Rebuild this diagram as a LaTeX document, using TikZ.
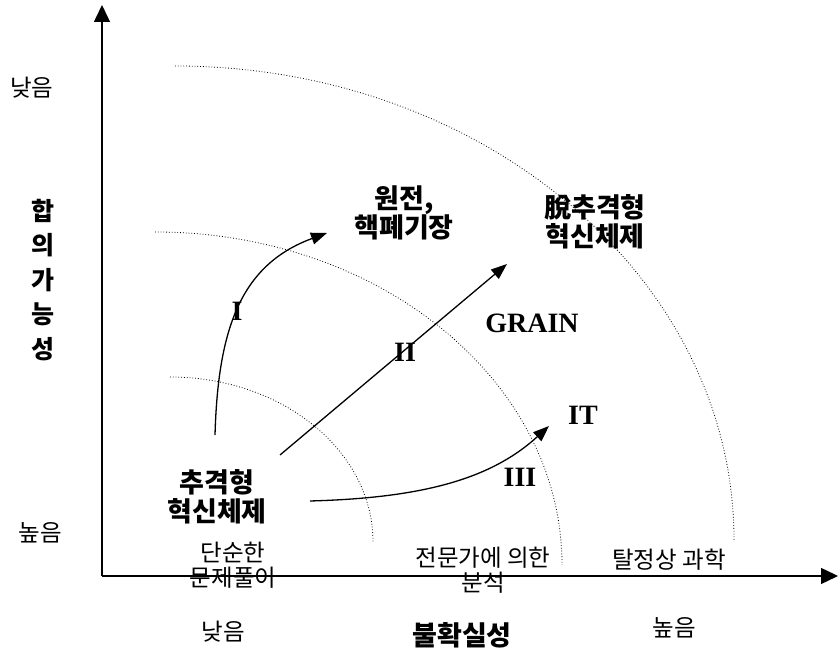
\documentclass[tikz,border=0pt]{standalone}
\usepackage{fontspec}
\usepackage{tikz}
\usetikzlibrary{arrows.meta, positioning}
\setmainfont{Liberation Serif}
\newfontfamily\kr{Noto Sans CJK KR}

\begin{document}
\begin{tikzpicture}[
    x=1pt, y=1pt,
    txt/.style={font=\kr\fontsize{23.5}{25}\selectfont, align=center, inner sep=0pt},
    btxt/.style={font=\kr\bfseries\fontsize{27}{29}\selectfont, align=center, inner sep=0pt},
    rom/.style={font=\bfseries\fontsize{28}{30}\selectfont, inner sep=0pt},
    zone/.style={dotted, line width=0.8pt},
    arrow/.style={line width=1.3pt, -{Triangle[length=16pt, width=12pt]}},
    axis/.style={line width=1.4pt, -{Triangle[length=17pt, width=16pt]}}
]
    \useasboundingbox (0,0) rectangle (838,652);
    % axes
    \coordinate (origin) at (102,76);
    \coordinate (ytop) at (102,647);
    \coordinate (xend) at (838,76);
    \draw[axis] (origin) -- (ytop);
    \draw[axis] (origin) -- (xend);
    % dotted zones
    \draw[zone] (170,275) arc[start angle=90, end angle=0, x radius=203, y radius=165];
    \draw[zone] (155,420) arc[start angle=90, end angle=0, x radius=407, y radius=333];
    \draw[zone] (175,586) arc[start angle=90, end angle=0, x radius=559, y radius=474];
    % axis labels
    \node[txt] (ylow) at (32,564) {낮음};
    \node[btxt, font=\kr\bfseries\fontsize{25}{34.5}\selectfont] (ytitle) at (43,372) {합\\의\\가\\능\\성};
    \node[txt] (yhigh) at (40,119) {높음};
    \node[txt] (xlow) at (223,20) {낮음};
    \node[btxt] (xtitle) at (462,17) {불확실성};
    \node[txt] (xhigh) at (674,24) {높음};
    % zone labels
    \node[txt] (simple) at (233,87) {단순한\\문제풀이};
    \node[txt] (expert) at (483,82) {전문가에 의한\\분석};
    \node[txt] (postnormal) at (669,92) {탈정상 과학};
    % regimes
    \node[btxt] (catchup) at (217,155) {추격형\\혁신체제};
    \node[btxt] (nuclear) at (404,439) {원전,\\핵폐기장};
    \node[btxt] (postcatchup) at (595,430) {脫추격형\\혁신체제};
    \node[rom] (grain) at (532,329) {GRAIN};
    \node[rom] (it) at (583,237) {IT};
    % paths
    \coordinate (p1s) at (215,217);
    \coordinate (p1e) at (327,419);
    \coordinate (p2s) at (280,197);
    \coordinate (p2e) at (507,388);
    \coordinate (p3s) at (310,151);
    \coordinate (p3e) at (549,226);
    \draw[arrow] (p1s) .. controls (218,322) and (240,387) .. (p1e);
    \draw[arrow] (p2s) -- (p2e);
    \draw[arrow] (p3s) .. controls (420,154) and (490,172) .. (p3e);
    \node[rom] (one) at (237,341) {I};
    \node[rom] (two) at (405,300) {II};
    \node[rom] (three) at (520,175) {III};
\end{tikzpicture}
\end{document}
